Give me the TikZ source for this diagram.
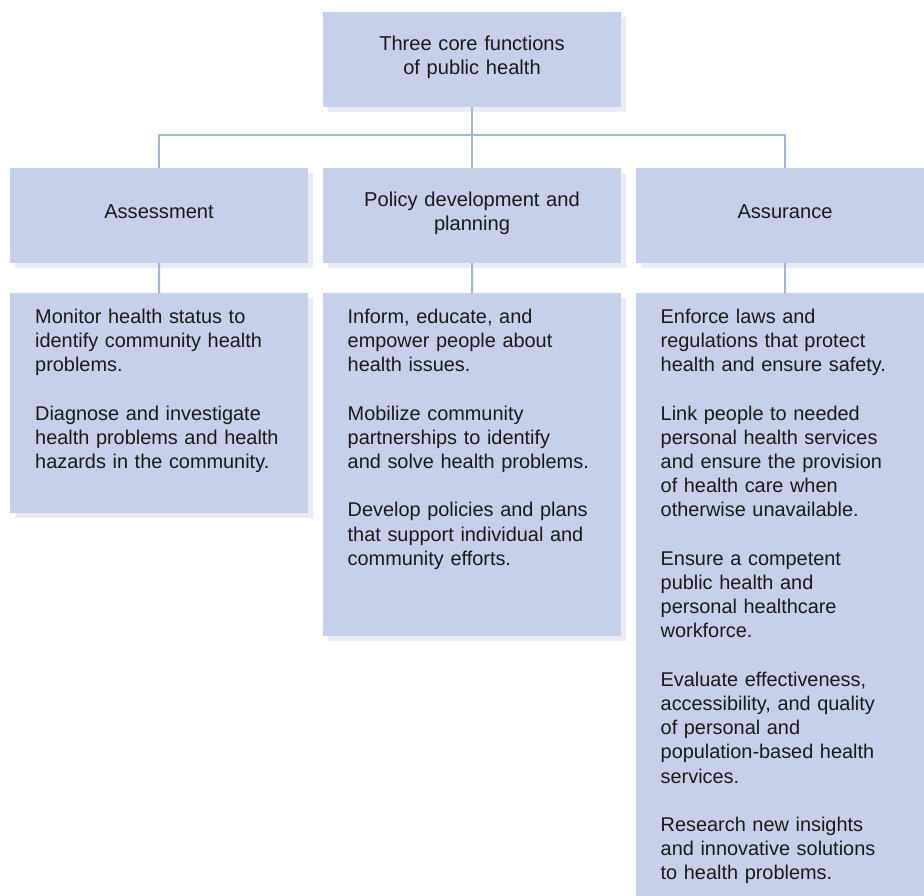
\documentclass[tikz,border=0pt]{standalone}
\usepackage{fontspec}
\setmainfont{Liberation Sans}
\usetikzlibrary{shadows}
\definecolor{boxfill}{HTML}{C6D0E8}
\definecolor{shadowfill}{HTML}{E9ECF6}
\definecolor{linecol}{HTML}{A0B4DC}
\definecolor{txtcol}{HTML}{1A1A1A}
\begin{document}
\begin{tikzpicture}[x=1pt,y=-1pt,
  box/.style={rectangle, fill=boxfill, inner sep=0pt, minimum width=298pt,
    drop shadow={shadow xshift=5pt, shadow yshift=-5pt, fill=shadowfill, opacity=1}},
  lbl/.style={inner sep=0pt, anchor=base, text width=298pt, align=center,
    text=txtcol, font=\fontsize{20.1}{24}\selectfont},
  conn/.style={draw=linecol, line width=2pt},
  txt/.style={inner sep=0pt, anchor=base west, text width=295pt, align=left,
    text=txtcol, font=\fontsize{19.9}{24.2}\selectfont}
  ]
\clip (0,0) rectangle (924,895);
% top
\node[box, minimum height=95pt] (top) at (472,59.5) {};
% middle row
\node[box, minimum height=94.7pt] (ass) at (159,215.4) {};
\node[box, minimum height=94.7pt] (pol) at (472,215.4) {};
\node[box, minimum height=94.7pt] (asr) at (785,215.4) {};
% bottom row
\node[box, minimum height=219.6pt, anchor=north west] (b1) at (10,293) {};
\node[box, minimum height=342.5pt, anchor=north west] (b2) at (323,293) {};
\node[box, minimum height=620pt, anchor=north west] (b3) at (636,293) {};
% titles
\node[lbl] (ltop) at (472,50) {Three core functions\\of public health};
\node[lbl] (lass) at (159,218.5) {Assessment};
\node[lbl] (lpol) at (472,206.7) {Policy development and\\planning};
\node[lbl] (lasr) at (785,218.5) {Assurance};
% texts
\node[txt] (t1) at ([shift={(25,30.3)}]b1.north west) {Monitor health status to\\identify community health\\problems.\\[24.2pt]Diagnose and investigate\\health problems and health\\hazards in the community.};
\node[txt] (t2) at ([shift={(24.5,30.3)}]b2.north west) {Inform, educate, and\\empower people about\\health issues.\\[24.2pt]Mobilize community\\partnerships to identify\\and solve health problems.\\[24.2pt]Develop policies and plans\\that support individual and\\community efforts.};
\node[txt] (t3) at ([shift={(24.5,30.3)}]b3.north west) {Enforce laws and\\regulations that protect\\health and ensure safety.\\[24.2pt]Link people to needed\\personal health services\\and ensure the provision\\of health care when\\otherwise unavailable.\\[24.2pt]Ensure a competent\\public health and\\personal healthcare\\workforce.\\[24.2pt]Evaluate effectiveness,\\accessibility, and quality\\of personal and\\population-based health\\services.\\[24.2pt]Research new insights\\and innovative solutions\\to health problems.};
% connectors
\draw[conn] (top.south) -- (pol.north);
\draw[conn] (ass.north) -- ++(0,-33) -| (asr.north);
\draw[conn] (ass.south) -- (b1.north);
\draw[conn] (pol.south) -- (b2.north);
\draw[conn] (asr.south) -- (b3.north);
\end{tikzpicture}
\end{document}
